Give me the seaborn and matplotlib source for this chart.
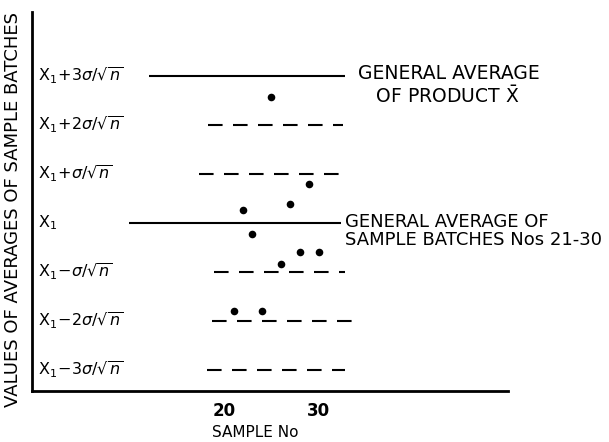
import numpy as np
import pandas as pd
import seaborn as sns
import matplotlib.pyplot as plt

# sample batch numbers and their averages (in units of sigma/sqrt(n) about X1)
sample_no = [21, 22, 23, 24, 25, 26, 27, 28, 29, 30]
batch_avg = [-1.8, 0.27, -0.22, -1.8, 2.57, -0.85, 0.39, -0.6, 0.8, -0.6]

# reference levels, their labels and the extent of each line along the x axis
levels = [3, 2, 1, 0, -1, -2, -3]
level_labels = [
    r'$\mathrm{X}_1\!+\!3\sigma/\sqrt{n}$',
    r'$\mathrm{X}_1\!+\!2\sigma/\sqrt{n}$',
    r'$\mathrm{X}_1\!+\!\sigma/\sqrt{n}$',
    r'$\mathrm{X}_1$',
    r'$\mathrm{X}_1\!-\!\sigma/\sqrt{n}$',
    r'$\mathrm{X}_1\!-\!2\sigma/\sqrt{n}$',
    r'$\mathrm{X}_1\!-\!3\sigma/\sqrt{n}$',
]
level_start = [12.1, 18.3, 17.4, 10.0, 18.9, 18.7, 18.2]
level_end = [32.8, 32.6, 32.1, 32.4, 32.8, 33.5, 32.8]
level_solid = [True, False, False, True, False, False, False]

x_ticks = [20, 30]

sns.set_style('white')
plt.rcParams['font.family'] = ['DejaVu Sans']
plt.rcParams['mathtext.fontset'] = 'dejavusans'
plt.rcParams['text.color'] = 'black'

fig = plt.figure(figsize=(6.09, 4.42), dpi=100)
ax = fig.add_axes([0.0525, 0.1154, 0.7815, 0.8576])

df = pd.DataFrame({'sample': sample_no, 'avg': batch_avg})
sns.scatterplot(data=df, x='sample', y='avg', ax=ax, color='black',
                s=30, edgecolor='black', linewidth=0, zorder=3)

for lvl, x0, x1, solid in zip(levels, level_start, level_end, level_solid):
    style = '-' if solid else (0, (7, 5))
    ax.hlines(lvl, x0, x1, colors='black', linewidth=1.5, linestyles=style)

for lvl, lab in zip(levels, level_labels):
    ax.text(0.012, lvl, lab, transform=ax.get_yaxis_transform(),
            fontsize=11.5, va='center', ha='left', color='black')

ax.text(34.2, 2.8, 'GENERAL AVERAGE\n   OF PRODUCT $\\bar{\\mathrm{X}}$',
        fontsize=13.5, va='center', ha='left', linespacing=1.1,
        color='black')
ax.text(32.8, -0.16, 'GENERAL AVERAGE OF\nSAMPLE BATCHES Nos 21-30',
        fontsize=13, va='center', ha='left', linespacing=1.0,
        color='black')

ax.set_xlim(-0.3, 50)
ax.set_ylim(-3.43, 4.3)
ax.set_xticks(x_ticks)
ax.set_xticklabels([str(t) for t in x_ticks], fontsize=12, fontweight='bold',
                   color='black')
ax.set_yticks([])
ax.tick_params(axis='x', length=0, pad=8)

ax.set_xlabel('SAMPLE No', fontsize=11, color='black')
ax.xaxis.set_label_coords(0.47, -0.09)
ax.set_ylabel('VALUES OF AVERAGES OF SAMPLE BATCHES', fontsize=13,
              color='black')
ax.yaxis.set_label_coords(-0.02, 0.478)

sns.despine(ax=ax)
for side in ('left', 'bottom'):
    ax.spines[side].set_linewidth(2)
    ax.spines[side].set_color('black')

fig.savefig('out.png', dpi=100)
